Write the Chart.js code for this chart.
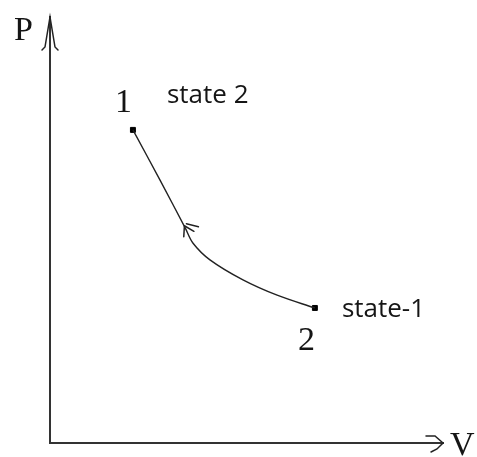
<!DOCTYPE html>
<html>
<head>
<meta charset="utf-8">
<script src="https://cdn.jsdelivr.net/npm/chart.js@4"></script>
<style>
  html, body { margin: 0; padding: 0; background: #fff; }
  canvas { display: block; }
</style>
</head>
<body>
<canvas id="pvChart" width="477" height="457"></canvas>
<script>
// --- data: process path on the P-V plane (arbitrary units 0..10) ---
const curveV = [2.11, 2.80, 3.44, 3.64, 4.07, 4.91, 5.78, 6.74];
const curveP = [7.35, 6.17, 5.05, 4.69, 4.30, 3.83, 3.47, 3.17];
const stateV = [2.11, 6.74];
const stateP = [7.35, 3.17];
const stateNumbers = ['1', '2'];
const stateNames = ['state 2', 'state-1'];
const axisNames = ['V', 'P'];
const arrowV = 3.42;
const arrowP = 5.10;

const serif = '"Liberation Serif", "DejaVu Serif", serif';
const sans = '"Open Sans", "Noto Sans", sans-serif';

// --- plugin for hand-drawn arrows and labels ---
const sketchPlugin = {
    id: 'sketch',
    afterDraw(chart) {
        const ctx = chart.ctx;
        const x = chart.scales.x, y = chart.scales.y;
        const a = chart.chartArea;
        ctx.save();
        ctx.strokeStyle = '#222';
        ctx.lineWidth = 1.5;
        ctx.lineCap = 'round';

        // y axis arrow head
        ctx.beginPath();
        ctx.moveTo(a.left - 8, a.top + 33); ctx.lineTo(a.left - 5, a.top + 30);
        ctx.lineTo(a.left, a.top); ctx.lineTo(a.left + 5, a.top + 30);
        ctx.lineTo(a.left + 8, a.top + 33);
        ctx.stroke();

        // x axis arrow head
        ctx.beginPath();
        ctx.moveTo(a.right - 17, a.bottom - 7); ctx.lineTo(a.right - 8, a.bottom - 7);
        ctx.lineTo(a.right, a.bottom); ctx.lineTo(a.right - 6, a.bottom + 6);
        ctx.lineTo(a.right - 12, a.bottom + 9);
        ctx.stroke();

        // arrow on the path, pointing back towards state 1
        const tx = x.getPixelForValue(arrowV), ty = y.getPixelForValue(arrowP);
        const ang = Math.atan2(y.getPixelForValue(stateP[0]) - ty, x.getPixelForValue(stateV[0]) - tx);
        ctx.beginPath();
        [0.55, -0.55].forEach(d => {
            ctx.moveTo(tx, ty);
            ctx.lineTo(tx - 11 * Math.cos(ang + d), ty - 11 * Math.sin(ang + d));
        });
        ctx.moveTo(tx + 2, ty - 2); ctx.lineTo(tx + 14, ty + 1);
        ctx.stroke();

        // axis letters
        ctx.fillStyle = '#151515';
        ctx.textBaseline = 'alphabetic';
        ctx.font = '34px ' + serif;
        ctx.textAlign = 'right';
        ctx.fillText(axisNames[1], a.left - 17, a.top + 23);
        ctx.textAlign = 'left';
        ctx.fillText(axisNames[0], a.right + 7, a.bottom + 12);

        // state labels
        const offs = [
            { num: [-18, -18], name: [34, -27] },
            { num: [-17, 42], name: [27, 9] }
        ];
        stateV.forEach((v, i) => {
            const px = x.getPixelForValue(v), py = y.getPixelForValue(stateP[i]);
            ctx.font = '34px ' + serif;
            ctx.fillText(stateNumbers[i], px + offs[i].num[0], py + offs[i].num[1]);
            ctx.font = '26px ' + sans;
            ctx.fillText(stateNames[i], px + offs[i].name[0], py + offs[i].name[1]);
        });
        ctx.restore();
    }
};

const pvCtx = document.getElementById('pvChart').getContext('2d');
const pvChart = new Chart(pvCtx, {
    type: 'scatter',
    data: {
        datasets: [{
            label: 'process',
            data: curveV.map((v, i) => ({ x: v, y: curveP[i] })),
            showLine: true,
            borderColor: '#222',
            borderWidth: 1.4,
            tension: 0.35,
            pointRadius: 0
        }, {
            label: 'states',
            data: stateV.map((v, i) => ({ x: v, y: stateP[i] })),
            pointStyle: 'rect',
            pointRadius: 3.5,
            backgroundColor: '#000',
            borderColor: '#000'
        }]
    },
    options: {
        responsive: false,
        animation: false,
        layout: { padding: { left: 42, top: 17, right: 34, bottom: 6 } },
        plugins: {
            legend: { display: false },
            tooltip: { enabled: false }
        },
        scales: {
            x: {
                min: 0, max: 10,
                ticks: { display: false },
                grid: { display: false },
                border: { display: true, color: '#333', width: 2 }
            },
            y: {
                min: 0, max: 10,
                ticks: { display: false },
                grid: { display: false },
                border: { display: true, color: '#333', width: 2 }
            }
        }
    },
    plugins: [sketchPlugin]
});
</script>
</body>
</html>
